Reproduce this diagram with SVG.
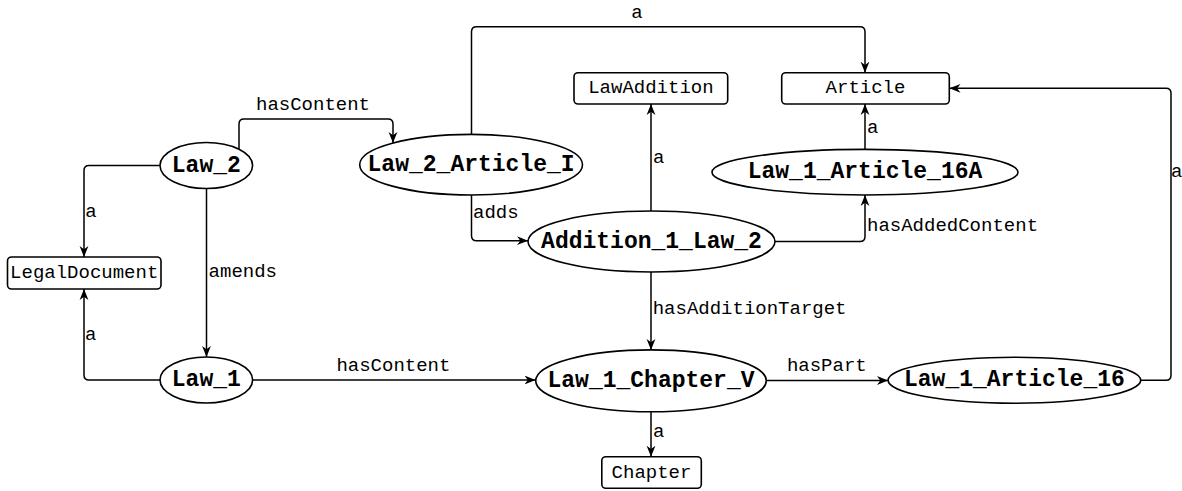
<svg xmlns="http://www.w3.org/2000/svg" width="1182" height="491" viewBox="0 0 1182 491">
  <style>
    .node ellipse, .node rect { fill: #ffffff; stroke: #000000; stroke-width: 1.6; }
    .inst { font-family: "Liberation Mono", "Courier New", monospace; font-size: 23px; font-weight: bold; fill: #000; text-anchor: middle; dominant-baseline: central; }
    .cls { font-family: "Liberation Mono", "Courier New", monospace; font-size: 19px; fill: #000; text-anchor: middle; dominant-baseline: central; }
    .edge { fill: none; stroke: #000000; stroke-width: 1.5; marker-end: url(#arrow); }
    .lbl { font-family: "Liberation Mono", "Courier New", monospace; font-size: 19px; fill: #000; dominant-baseline: central; }
    .mid { text-anchor: middle; }
  </style>
  <defs>
    <marker id="arrow" viewBox="0 0 10 10" refX="10" refY="5" markerWidth="11" markerHeight="11" markerUnits="userSpaceOnUse" orient="auto">
      <path d="M0,1 L10,5 L0,9 L3,5 z" fill="#000"/>
    </marker>
  </defs>
  <rect width="1182" height="491" fill="#ffffff"/>

  <g id="connectors">
    <path class="edge" d="M239,149.5 V124 Q239,119 244,119 H388 Q393,119 393,124 V143"/>
    <path class="edge" d="M160,165.5 H89 Q84,165.5 84,170.5 V257"/>
    <path class="edge" d="M206.5,188.5 V357"/>
    <path class="edge" d="M160,380 H89 Q84,380 84,375 V289"/>
    <path class="edge" d="M252.5,380 H535.5"/>
    <path class="edge" d="M471.5,134.5 V31.7 Q471.5,26.7 476.5,26.7 H860 Q865,26.7 865,31.7 V72.7"/>
    <path class="edge" d="M471.5,195 V235.7 Q471.5,240.7 476.5,240.7 H528"/>
    <path class="edge" d="M651,211 V104"/>
    <path class="edge" d="M775,241.5 H860 Q865,241.5 865,236.5 V195"/>
    <path class="edge" d="M865,149 V104"/>
    <path class="edge" d="M651,272 V350"/>
    <path class="edge" d="M766.5,380.5 H888"/>
    <path class="edge" d="M651,411.7 V456.7"/>
    <path class="edge" d="M1140.7,380.3 H1166 Q1171,380.3 1171,375.3 V93.3 Q1171,88.3 1166,88.3 H949.5"/>

    <text class="lbl mid" x="313" y="105">hasContent</text>
    <text class="lbl mid" x="637" y="13">a</text>
    <text class="lbl mid" x="91" y="211.7">a</text>
    <text class="lbl" x="208.6" y="272">amends</text>
    <text class="lbl mid" x="90.7" y="335">a</text>
    <text class="lbl mid" x="393.4" y="366">hasContent</text>
    <text class="lbl" x="473" y="213">adds</text>
    <text class="lbl" x="653" y="158">a</text>
    <text class="lbl" x="867" y="127.7">a</text>
    <text class="lbl" x="867" y="225.7">hasAddedContent</text>
    <text class="lbl" x="652.7" y="309">hasAdditionTarget</text>
    <text class="lbl mid" x="826.8" y="366">hasPart</text>
    <text class="lbl" x="653" y="431.7">a</text>
    <text class="lbl" x="1171" y="171.7">a</text>
  </g>

  <g id="LegalDocument" class="node">
    <rect x="7.5" y="257" width="153.5" height="32" rx="4"/>
    <text class="cls" x="84.2" y="273">LegalDocument</text>
  </g>
  <g id="LawAddition" class="node">
    <rect x="574" y="72.7" width="153.7" height="31.3" rx="4"/>
    <text class="cls" x="650.9" y="88.4">LawAddition</text>
  </g>
  <g id="Article" class="node">
    <rect x="781.7" y="72.7" width="167.6" height="31.3" rx="4"/>
    <text class="cls" x="865.5" y="88.4">Article</text>
  </g>
  <g id="Chapter" class="node">
    <rect x="601.8" y="456.7" width="99.5" height="31.6" rx="4"/>
    <text class="cls" x="651.5" y="472.5">Chapter</text>
  </g>

  <g id="Law_2" class="node">
    <ellipse cx="206.3" cy="165.5" rx="46.3" ry="23"/>
    <text class="inst" x="206.3" y="165.5">Law_2</text>
  </g>
  <g id="Law_2_Article_I" class="node">
    <ellipse cx="471.1" cy="164.7" rx="111.4" ry="30.3"/>
    <text class="inst" x="471.1" y="164.7">Law_2_Article_I</text>
  </g>
  <g id="Law_1_Article_16A" class="node">
    <ellipse cx="865" cy="172.2" rx="153" ry="22.8"/>
    <text class="inst" x="865" y="172.2">Law_1_Article_16A</text>
  </g>
  <g id="Addition_1_Law_2" class="node">
    <ellipse cx="651.5" cy="241.5" rx="123.5" ry="30.5"/>
    <text class="inst" x="651.5" y="241.5">Addition_1_Law_2</text>
  </g>
  <g id="Law_1" class="node">
    <ellipse cx="206.3" cy="380" rx="46.3" ry="23"/>
    <text class="inst" x="206.3" y="380">Law_1</text>
  </g>
  <g id="Law_1_Chapter_V" class="node">
    <ellipse cx="651" cy="380.8" rx="115.3" ry="30.9"/>
    <text class="inst" x="651" y="380.8">Law_1_Chapter_V</text>
  </g>
  <g id="Law_1_Article_16" class="node">
    <ellipse cx="1014.4" cy="380.3" rx="126.3" ry="23"/>
    <text class="inst" x="1014.4" y="380.3">Law_1_Article_16</text>
  </g>
</svg>
